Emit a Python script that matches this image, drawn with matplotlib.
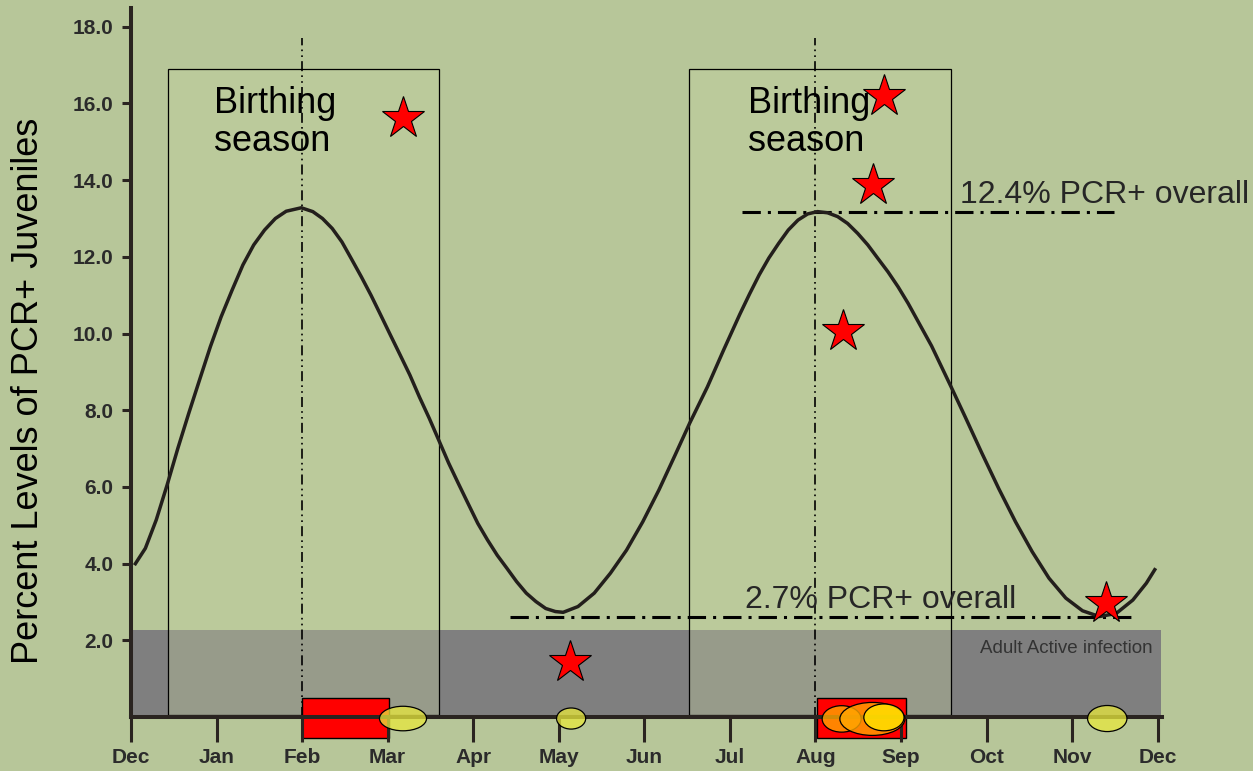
import matplotlib
matplotlib.use("Agg")
import matplotlib.pyplot as plt
from matplotlib.patches import Rectangle, Ellipse

# ---------------- data ----------------
month_labels = ['Dec', 'Jan', 'Feb', 'Mar', 'Apr', 'May', 'Jun',
                'Jul', 'Aug', 'Sep', 'Oct', 'Nov', 'Dec']
y_tick_values = [2, 4, 6, 8, 10, 12, 14, 16, 18]

# smooth seasonal curve (month index, percent)
curve_x = [0.04, 0.168, 0.295, 0.422, 0.548, 0.675, 0.801, 0.928,
           1.054, 1.181, 1.308, 1.434, 1.561, 1.687, 1.814, 1.99,
           2.125, 2.238, 2.352, 2.465, 2.578, 2.692, 2.805, 2.919,
           3.032, 3.146, 3.259, 3.372, 3.486, 3.591, 3.713, 3.826, 3.939,
           4.053, 4.166, 4.280, 4.393, 4.507, 4.620, 4.733, 4.847,
           4.960, 5.051, 5.224, 5.414, 5.603, 5.791,
           5.981, 6.170, 6.359, 6.529, 6.737, 6.926,
           7.115, 7.229, 7.342, 7.455, 7.569, 7.682, 7.796, 7.909,
           8.024, 8.141, 8.259, 8.376, 8.494, 8.612, 8.729, 8.847, 8.965,
           9.082, 9.161, 9.356, 9.585, 9.749, 9.945,
           10.141, 10.338, 10.533, 10.729, 10.926,
           11.121, 11.318, 11.514, 11.709, 11.867, 11.976]
curve_y = [3.96, 4.40, 5.14, 6.05, 7.01, 7.92, 8.79, 9.66,
           10.44, 11.13, 11.79, 12.31, 12.70, 13.00, 13.19, 13.28,
           13.18, 13.00, 12.74, 12.39, 11.94, 11.48, 11.00, 10.48,
           9.96, 9.44, 8.92, 8.34, 7.79, 7.25, 6.62, 6.09, 5.57,
           5.05, 4.62, 4.22, 3.88, 3.53, 3.23, 3.01, 2.83,
           2.75, 2.73, 2.88, 3.23, 3.75, 4.35,
           5.09, 5.92, 6.83, 7.66, 8.61, 9.57,
           10.50, 11.03, 11.53, 11.97, 12.35, 12.70, 12.96, 13.12,
           13.18, 13.15, 13.05, 12.87, 12.61, 12.31, 11.96, 11.61, 11.22,
           10.79, 10.47, 9.68, 8.61, 7.83, 6.88,
           5.96, 5.09, 4.31, 3.62, 3.10,
           2.77, 2.62, 2.70, 3.05, 3.49, 3.88]

# observed juvenile PCR+ levels (stars)
star_x = [3.18, 8.80, 8.668, 8.318, 5.136, 11.40]
star_y = [15.62, 16.19, 13.87, 10.07, 1.43, 2.97]

# birthing seasons (month ranges) and peak months
birth_start = [0.43, 6.525]
birth_end = [3.599, 9.588]
birth_top = 16.9
birth_label_x = [0.975, 7.206]
peak_months = [2, 8]

# overall PCR+ reference lines
overall_labels = ['12.4% PCR+ overall', '2.7% PCR+ overall']
overall_level = [13.16, 2.62]
overall_start = [7.138, 4.427]
overall_end = [11.494, 11.753]
overall_label_x = [9.694, 7.172]
overall_label_y = [13.40, 2.85]

# adult active infection band
adult_top = 2.27
adult_end = 12.041

# red bars on the axis (month ranges)
bar_start = [2.0, 8.02]
bar_end = [3.01, 9.06]

# ellipses on the axis (month centres)
yellow_x = [3.179, 5.144, 11.41]
aug_orange_x = [8.306, 8.665]
aug_yellow_x = [8.80]

# ---------------- figure ----------------
bg = '#B7C699'
dark = '#2A2420'
plt.rcParams['font.family'] = ['Liberation Sans', 'DejaVu Sans']

fig = plt.figure(figsize=(12.53, 7.71), dpi=100, facecolor=bg)
ax = fig.add_axes([0.10455, 0.07004, 0.82283, 0.91958])
ax.set_facecolor(bg)
ax.set_xlim(0, 12.05)
ax.set_ylim(0, 18.49)

# adult active infection band
ax.add_patch(Rectangle((0, 0), adult_end, adult_top, facecolor='#7F7F7F',
                       edgecolor='none', zorder=1))
ax.text(11.941, 1.67, 'Adult Active infection', ha='right', va='baseline',
        fontsize=13.5, color='#333333', zorder=5)

# birthing season boxes
for s, e, lx in zip(birth_start, birth_end, birth_label_x):
    ax.add_patch(Rectangle((s, 0.05), e - s, birth_top - 0.05,
                           facecolor=(196/255, 210/255, 160/255, 0.35),
                           edgecolor='black', linewidth=0.9, zorder=1.5))
    ax.text(lx, 16.45, 'Birthing\nseason', ha='left', va='top',
            fontsize=26, color='black', linespacing=1.1, zorder=5)

# peak vertical lines
for m in peak_months:
    ax.plot([m, m], [0, 17.7], color='black', linewidth=1.2,
            linestyle=(0, (6, 2.5, 1, 2.5, 1, 2.5)), zorder=1.8)

# overall dash-dot lines
for lab, lev, s, e, lx, ly in zip(overall_labels, overall_level, overall_start,
                                  overall_end, overall_label_x, overall_label_y):
    ax.plot([s, e], [lev, lev], color='black', linewidth=2.2,
            linestyle=(0, (6, 2.3, 1, 2.3)), zorder=3)
    ax.text(lx, ly, lab, ha='left', va='baseline', fontsize=23,
            color='#262626', zorder=5)

# seasonal curve
ax.plot(curve_x, curve_y, color='#231F1C', linewidth=2.5, zorder=3.5,
        solid_capstyle='butt', solid_joinstyle='round')

# stars
ax.plot(star_x, star_y, linestyle='none', marker='*', markersize=32,
        markerfacecolor='#FF0000', markeredgecolor='black',
        markeredgewidth=0.8, zorder=6)

# red bars straddling the axis
for s, e in zip(bar_start, bar_end):
    ax.add_patch(Rectangle((s, -0.55), e - s, 1.05, facecolor='#FF0000',
                           edgecolor='black', linewidth=1.0, zorder=2,
                           clip_on=False))

# ellipses
yellow_w = [0.55, 0.34, 0.46]
yellow_h = [0.64, 0.55, 0.68]
for x, w, h in zip(yellow_x, yellow_w, yellow_h):
    ax.add_patch(Ellipse((x, -0.04), w, h, facecolor=(0.91, 0.91, 0.24, 0.75),
                         edgecolor='black', linewidth=0.9, zorder=4,
                         clip_on=False))
orange_w = [0.456, 0.76]
orange_h = [0.69, 0.86]
for x, w, h in zip(aug_orange_x, orange_w, orange_h):
    ax.add_patch(Ellipse((x, -0.05), w, h, facecolor=(1.0, 0.65, 0.0, 0.8),
                         edgecolor='black', linewidth=0.9, zorder=4,
                         clip_on=False))
for x in aug_yellow_x:
    ax.add_patch(Ellipse((x, -0.01), 0.47, 0.70,
                         facecolor=(1.0, 0.88, 0.0, 0.85),
                         edgecolor='black', linewidth=0.9, zorder=4.1,
                         clip_on=False))

# axes styling
for side in ['top', 'right']:
    ax.spines[side].set_visible(False)
for side in ['left', 'bottom']:
    ax.spines[side].set_linewidth(2.9)
    ax.spines[side].set_color(dark)
    ax.spines[side].set_zorder(3)

ax.set_xticks(range(len(month_labels)))
ax.set_xticklabels(month_labels)
ax.set_yticks(y_tick_values)
ax.set_yticklabels([f'{v:.1f}' for v in y_tick_values])
ax.tick_params(axis='x', direction='out', length=18, width=2.2, color=dark,
               pad=4, labelsize=15, labelcolor='#2B2B2B')
ax.tick_params(axis='y', direction='out', length=6.5, width=2.2, color=dark,
               pad=6, labelsize=15, labelcolor='#2B2B2B')
for lab in ax.get_xticklabels() + ax.get_yticklabels():
    lab.set_fontweight('bold')
ax.xaxis.set_zorder(3)
ax.yaxis.set_zorder(3)

ax.set_ylabel('Percent Levels of PCR+ Juveniles', fontsize=26, color='black')
ax.yaxis.set_label_coords(-0.082, 0.46)

fig.savefig('out.png', dpi=100, facecolor=bg)
